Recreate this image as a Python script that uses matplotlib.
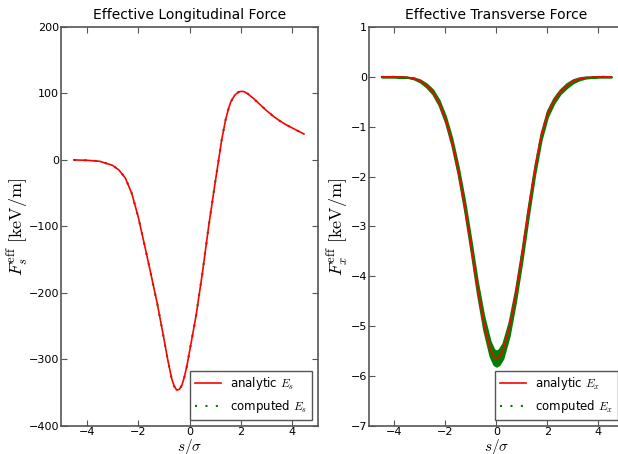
import matplotlib
matplotlib.use("Agg")
import matplotlib.pyplot as plt

# longitudinal force (keV/m)
s_long = [-4.5, -4.0, -3.5, -3.0, -2.75, -2.5, -2.25, -2.0, -1.75, -1.5, -1.25, -1.0,
          -0.85, -0.7, -0.6, -0.5, -0.4, -0.3, -0.2, -0.1, 0.0, 0.25, 0.5, 0.75,
          1.0, 1.25, 1.4, 1.5, 1.6, 1.75, 1.9, 2.0, 2.1, 2.25, 2.5, 2.75, 3.0,
          3.25, 3.5, 3.75, 4.0, 4.25, 4.45]
f_long = [0, -0.5, -2, -8, -15, -27, -50, -85, -128, -172, -217, -268,
          -300, -328, -340, -346, -345, -339, -326, -309, -288, -235, -170, -98,
          -33, 30, 60, 75, 87, 97, 102, 103, 103, 100, 92, 83, 74,
          66, 59, 53, 48, 43, 39]
f_long_comp = f_long

# transverse force (keV/m)
s_tran = [-4.5, -4.0, -3.5, -3.25, -3.0, -2.75, -2.5, -2.25, -2.0, -1.75, -1.5, -1.25,
          -1.0, -0.75, -0.5, -0.25, -0.1, 0.0, 0.1, 0.25, 0.5, 0.75, 1.0, 1.25,
          1.5, 1.75, 2.0, 2.25, 2.5, 2.75, 3.0, 3.25, 3.5, 4.0, 4.5]
f_tran = [0, 0, -0.01, -0.03, -0.08, -0.17, -0.3, -0.52, -0.85, -1.3, -1.88, -2.58,
          -3.38, -4.22, -4.93, -5.45, -5.62, -5.65, -5.62, -5.5, -5.05, -4.38, -3.58, -2.7,
          -1.88, -1.2, -0.74, -0.48, -0.3, -0.18, -0.09, -0.04, -0.015, 0, 0]
# spread of the computed points around the analytic curve
f_tran_spread = [0, 0, 0, 0.01, 0.02, 0.03, 0.04, 0.05, 0.06, 0.07, 0.08, 0.1,
                 0.11, 0.12, 0.14, 0.15, 0.15, 0.15, 0.15, 0.15, 0.14, 0.12, 0.11, 0.1,
                 0.08, 0.07, 0.06, 0.05, 0.04, 0.04, 0.03, 0.02, 0.01, 0, 0]

plt.rcParams["mathtext.fontset"] = "cm"
plt.rcParams["font.size"] = 8
plt.rcParams["xtick.direction"] = "in"
plt.rcParams["ytick.direction"] = "in"

fig = plt.figure(figsize=(6.18, 4.54), dpi=100)
ax1 = fig.add_axes([0.0987, 0.0617, 0.416, 0.879])
ax2 = fig.add_axes([0.597, 0.0617, 0.4126, 0.879])

dots = (0, (1, 4))
ax1.plot(s_long, f_long, color="red", lw=1.2, label=r"analytic $E_s$", zorder=3)
ax1.plot(s_long, f_long_comp, color="green", ls=dots, lw=1.5, label=r"computed $E_s$", zorder=2)
ax1.set(xlim=(-5, 5), ylim=(-400, 200))
ax1.set_title("Effective Longitudinal Force", fontsize=10)
ax1.set_ylabel(r"$F_s^{\rm eff}\ [{\rm keV/m}]$", fontsize=13)
ax1.yaxis.set_label_coords(-0.118, 0.5)

lo = [f - d for f, d in zip(f_tran, f_tran_spread)]
hi = [f + d for f, d in zip(f_tran, f_tran_spread)]
ax2.fill_between(s_tran, lo, hi, color="green", lw=1.5, edgecolor="green", zorder=1)
ax2.plot(s_tran, f_tran, color="red", lw=1.2, label=r"analytic $E_x$", zorder=3)
ax2.plot(s_tran, f_tran, color="green", ls=dots, lw=1.5, label=r"computed $E_x$", zorder=2)
ax2.set(xlim=(-5, 5), ylim=(-7, 1))
ax2.set_title("Effective Transverse Force", fontsize=10)
ax2.set_ylabel(r"$F_x^{\rm eff}\ [{\rm keV/m}]$", fontsize=13)
ax2.yaxis.set_label_coords(-0.07, 0.5)

for ax in (ax1, ax2):
    ax.set_xticks([-4, -2, 0, 2, 4])
    ax.set_xlabel(r"$s/\sigma$", fontsize=11)
    ax.xaxis.set_label_coords(0.5, -0.028)
    ax.tick_params(axis="x", pad=1)
    ax.tick_params(axis="y", pad=1.5)
    ax.tick_params(top=True, right=True, length=4, width=0.8, color="#555555")
    for sp in ax.spines.values():
        sp.set_color("#555555")
        sp.set_linewidth(1.2)
    leg = ax.legend(loc="lower right", fontsize=8.5, fancybox=False, handlelength=2.2,
                    borderaxespad=0.5, framealpha=1)
    leg.get_frame().set_edgecolor("#555555")

fig.savefig("out.png", dpi=100)
